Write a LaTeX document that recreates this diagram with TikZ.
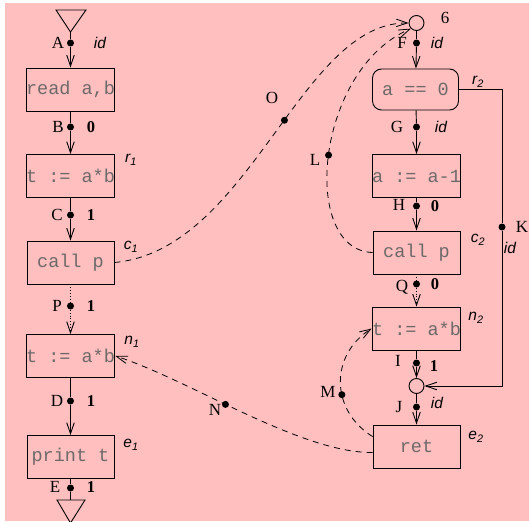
\documentclass[tikz,border=0pt]{standalone}
\usepackage{fontspec}
\setmainfont{Liberation Serif}
\setsansfont{Liberation Sans}
\setmonofont{Liberation Mono}
\usetikzlibrary{arrows.meta}
\definecolor{bgpink}{RGB}{255,191,191}
\definecolor{codegray}{RGB}{110,105,105}
\newcommand{\annsub}[2]{\textsf{\itshape #1}\textsubscript{\textsf{#2}}}
\begin{document}
\begin{tikzpicture}[x=1pt,y=-1pt,
  box/.style={draw, line width=0.9pt, minimum width=87pt, minimum height=43pt, inner sep=0pt, text=codegray, font=\ttfamily\fontsize{18.5}{20}\selectfont},
  dot/.style={circle, fill=black, inner sep=0pt, minimum size=7pt},
  ring/.style={draw, circle, line width=0.9pt, inner sep=0pt, minimum size=15pt},
  conn/.style={line width=0.9pt},
  arr/.style={conn, -{Straight Barb[length=11pt,width=7.5pt]}},
  dsh/.style={line width=0.8pt, dash pattern=on 6pt off 5pt, -{Straight Barb[length=11pt,width=7.5pt]}},
  ltr/.style={font=\fontsize{17}{17}\selectfont},
  val/.style={font=\bfseries\fontsize{16.5}{17}\selectfont},
  ann/.style={font=\sffamily\itshape\fontsize{15.5}{16}\selectfont},
]
\useasboundingbox (0,0) rectangle (529,521);
\fill[white] (0,0) rectangle (529,521);
\fill[bgpink] (5,3) rectangle (529,521);

% left column
\coordinate (tAa) at (56,10);
\coordinate (tAb) at (86,10);
\coordinate (tA) at (70.5,32);
\draw[conn] (tAa) -- (tAb) -- (tA) -- cycle;
\node[box] (read) at (70.5,89.5) {read a,b};
\node[box] (t1) at (70.5,176) {t := a*b};
\node[box] (call1) at (70.5,262.5) {call p};
\node[box] (n1) at (70.5,356) {t := a*b};
\node[box] (prt) at (70.5,457) {print t};
\coordinate (tEa) at (57,500);
\coordinate (tEb) at (85,500);
\coordinate (tE) at (70.5,523);
\draw[conn] (tEa) -- (tEb) -- (tE) -- cycle;

\node[dot] (A) at (70.5,43) {};
\node[dot] (B) at (70.5,127) {};
\node[dot] (C) at (70.5,215) {};
\node[dot] (P) at (70.5,306) {};
\node[dot] (D) at (70.5,401) {};
\node[dot] (E) at (70.5,488) {};

\draw[conn] (tA) -- (A); \draw[arr] (A) -- (read);
\draw[conn] (read) -- (B); \draw[arr] (B) -- (t1);
\draw[conn] (t1) -- (C); \draw[arr] (C) -- (call1);
\draw[conn,dotted] (call1) -- (P); \draw[arr,dotted] (P) -- (n1);
\draw[conn] (n1) -- (D); \draw[arr] (D) -- (prt);
\draw[conn] (prt) -- (E); \draw[conn] (E) -- (tEa -| E);

\node[ltr] (lA) at (58,43) {A};
\node[ann] (vA) at (100,43) {id};
\node[ltr] (lB) at (58,127) {B};
\node[val] (vB) at (91,127) {0};
\node[ltr] (lC) at (57,215) {C};
\node[val] (vC) at (91,215) {1};
\node[ltr] (lP) at (57,306) {P};
\node[val] (vP) at (91,306) {1};
\node[ltr] (lD) at (57,401) {D};
\node[val] (vD) at (91,401) {1};
\node[ltr] (lE) at (55,487) {E};
\node[val] (vE) at (91,487) {1};

\node[ann] (nr1) at (131,160) {\annsub{r}{1}};
\node[ann] (nc1) at (131,247) {\annsub{c}{1}};
\node[ann] (nn1) at (132,342) {\annsub{n}{1}};
\node[ann] (ne1) at (131,445) {\annsub{e}{1}};

% right column
\node[ring] (six) at (416.5,23) {};
\node[box, rounded corners=9pt, minimum width=86pt, minimum height=41pt] (cond) at (415.5,89.5) {a == 0};
\node[box] (dec) at (416.5,176) {a := a-1};
\node[box] (call2) at (416.5,252.5) {call p};
\node[box] (n2) at (416.5,328.5) {t := a*b};
\node[ring] (join) at (416.5,386) {};
\node[box] (ret) at (416.5,446.5) {ret};

\node[dot] (F) at (416.5,43) {};
\node[dot] (G) at (416.5,127) {};
\node[dot] (H) at (416.5,206) {};
\node[dot] (Q) at (416.5,284) {};
\node[dot] (I) at (416.5,363) {};
\node[dot] (J) at (416.5,407) {};
\node[dot] (K) at (502,227) {};

\draw[conn] (six) -- (F); \draw[arr] (F) -- (cond);
\draw[conn] (cond) -- (G); \draw[arr] (G) -- (dec);
\draw[conn] (dec) -- (H); \draw[arr] (H) -- (call2);
\draw[conn,dotted] (call2) -- (Q); \draw[arr,dotted] (Q) -- (n2);
\draw[conn] (n2) -- (I); \draw[arr] (I) -- (join);
\draw[conn] (join) -- (J); \draw[arr] (J) -- (ret);
\draw[conn] (cond.east) -| (K);
\draw[arr] (K) |- (join);

\node[ltr] (l6) at (445,18) {6};
\node[ltr] (lF) at (402,43) {F};
\node[ann] (vF) at (437,43) {id};
\node[ltr] (lG) at (397,127) {G};
\node[ann] (vG) at (441,127) {id};
\node[ltr] (lH) at (399,205) {H};
\node[val] (vH) at (435,206) {0};
\node[ltr] (lQ) at (402,287) {Q};
\node[val] (vQ) at (435,284) {0};
\node[ltr] (lI) at (398,361) {I};
\node[val] (vI) at (434,366) {1};
\node[ltr] (lJ) at (399,407) {J};
\node[ann] (vJ) at (437,403) {id};
\node[ltr] (lK) at (522,227) {K};
\node[ann] (vK) at (510,248) {id};

\node[ann] (nr2) at (478,82) {\annsub{r}{2}};
\node[ann] (nc2) at (478,240) {\annsub{c}{2}};
\node[ann] (nn2) at (476,318) {\annsub{n}{2}};
\node[ann] (ne2) at (476,437) {\annsub{e}{2}};

% dashed interprocedural edges
\draw[dsh] (call1.east) .. controls (250,250) and (300,22) .. (six.west) node[dot,pos=0.55] (O) {};
\draw[dsh] (call2.west) .. controls (300,250) and (315,70) .. (six.south west) node[dot,pos=0.5] (L) {};
\draw[dsh] ([yshift=-6pt]ret.west) .. controls (300,453) and (190,380) .. (n1.east) node[dot,pos=0.57] (N) {};
\draw[dsh] ([yshift=-12pt]ret.north west) .. controls (330,410) and (330,355) .. (n2.west) node[dot,pos=0.4] (M) {};

\node[ltr] (lO) at (272,98) {O};
\node[ltr] (lL) at (315,160) {L};
\node[ltr] (lN) at (215,410) {N};
\node[ltr] (lM) at (328,392) {M};
\end{tikzpicture}
\end{document}
